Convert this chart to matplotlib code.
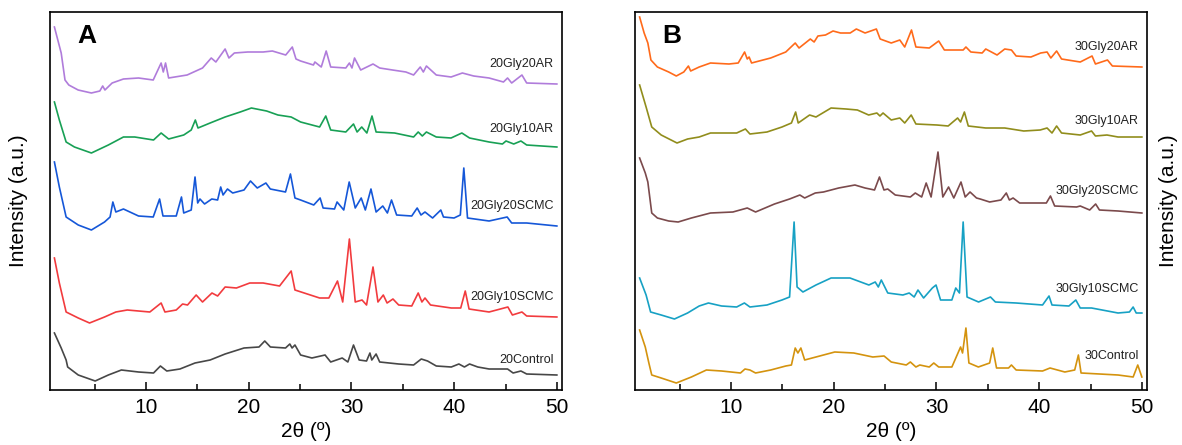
import matplotlib.pyplot as plt

plt.rcParams['font.family'] = ['Liberation Sans', 'DejaVu Sans']

# Panel A: 20 wt% glycerol films (2theta in degrees, stacked intensity in a.u.)
a_gly20ar_x = [1.08, 1.74, 2.11, 2.48, 3.39, 4.68, 5.5, 5.78, 6.0, 6.7, 7.8, 9.27, 10.7, 11.47, 11.68, 11.9, 12.2,
               14.0, 15.5, 16.35, 16.8, 17.7, 18.07, 18.6, 19.9, 21.4, 22.3, 23.6, 24.24, 24.6, 25.05, 26.3, 26.44,
               27.06, 27.54, 27.98, 29.45, 29.8, 30.05, 30.3, 30.9, 32.1, 32.75, 34.0, 35.3, 36.05, 36.7, 37.0, 37.3,
               38.26, 39.7, 40.8, 41.9, 43.4, 44.8, 45.2, 45.6, 46.6, 47.06, 50.0]
a_gly20ar_y = [363, 337, 310, 305, 300, 297, 299, 304, 300, 307, 311, 312, 310, 327, 318, 327, 312,
               315, 322, 332, 328, 341, 332, 337, 338, 338, 339, 335, 343, 331, 329, 325, 328,
               323, 339, 323, 322, 327, 322, 332, 320, 326, 322, 320, 318, 315, 323, 318, 324,
               315, 313, 317, 314, 312, 308, 312, 307, 315, 307, 306]

a_gly10ar_x = [1.08, 1.56, 2.22, 3.03, 4.68, 6.33, 7.8, 8.9, 10.73, 11.47, 12.2, 13.67, 14.4, 14.8, 15.06, 16.24,
               17.7, 19.17, 20.26, 21.74, 22.84, 24.13, 25.05, 26.9, 27.5, 27.98, 29.45, 30.2, 30.55, 31.0, 31.5,
               32.0, 32.4, 34.2, 36.05, 36.5, 36.9, 37.3, 38.26, 39.7, 40.75, 41.5, 43.4, 44.7, 45.05, 45.8, 46.5,
               47.06, 50.0]
a_gly10ar_y = [288, 270, 248, 243, 237, 245, 253, 253, 250, 257, 251, 255, 260, 270, 262, 267,
               273, 278, 282, 279, 275, 273, 268, 263, 274, 260, 258, 266, 258, 263, 257,
               274, 258, 257, 253, 258, 254, 258, 253, 252, 257, 252, 248, 246, 249, 246, 249,
               245, 243]

a_gly20scmc_x = [1.08, 1.56, 2.22, 3.4, 4.68, 5.96, 6.5, 6.77, 7.06, 7.8, 9.27, 10.7, 11.32, 11.65, 12.94, 13.45,
                 13.67, 14.4, 14.77, 15.03, 15.25, 15.7, 16.4, 16.97, 17.27, 17.5, 17.93, 18.44, 19.54, 20.17, 20.83,
                 21.67, 22.1, 23.58, 24.06, 24.5, 25.05, 26.33, 26.95, 27.24, 28.35, 28.6, 29.25, 29.78, 30.37,
                 30.95, 31.35, 31.9, 32.4, 33.05, 33.5, 33.9, 34.4, 35.87, 36.4, 36.77, 37.16, 37.9, 38.7, 38.96,
                 39.99, 40.6, 40.94, 41.3, 43.4, 45.16, 45.6, 47.06, 50.0]
a_gly20scmc_y = [228, 203, 173, 165, 160, 168, 173, 188, 178, 181, 174, 173, 191, 174, 174, 193,
                 177, 180, 213, 187, 191, 186, 191, 190, 203, 195, 201, 197, 200, 209, 202,
                 207, 201, 198, 216, 192, 190, 185, 192, 182, 181, 188, 180, 208, 182,
                 192, 180, 201, 178, 184, 177, 190, 175, 174, 182, 175, 178, 172, 180, 173,
                 172, 175, 222, 172, 169, 173, 167, 167, 164]

a_gly10scmc_x = [1.08, 1.56, 2.22, 3.4, 4.5, 5.96, 7.06, 8.17, 10.37, 11.47, 11.84, 12.94, 13.56, 14.04, 14.88,
                 15.5, 16.42, 16.97, 17.7, 18.8, 20.1, 21.4, 23.0, 24.13, 24.5, 25.4, 26.9, 27.8, 28.64, 29.15,
                 29.8, 30.37, 31.03, 31.47, 32.1, 32.58, 33.1, 33.47, 34.04, 34.6, 35.87, 36.5, 36.86, 37.16,
                 37.7, 39.72, 40.64, 41.08, 41.45, 43.4, 45.23, 45.67, 46.6, 47.06, 50.0]
a_gly10scmc_y = [132, 107, 78, 72, 67, 73, 78, 80, 78, 87, 78, 80, 86, 85, 95,
                 88, 97, 94, 103, 102, 107, 107, 104, 119, 100, 97, 92, 92, 109, 88,
                 151, 88, 90, 85, 123, 88, 95, 87, 91, 85, 84, 97, 88, 92,
                 85, 82, 82, 99, 81, 78, 83, 75, 78, 74, 73]

a_control_x = [1.08, 1.74, 2.22, 2.37, 3.4, 5.05, 6.33, 7.6, 9.27, 10.73, 11.4, 12.02, 13.3, 14.77, 16.24, 17.7,
               19.54, 21.0, 21.56, 22.11, 23.58, 24.0, 24.22, 24.5, 25.05, 26.15, 27.43, 27.98, 29.1, 29.65, 30.2,
               30.75, 31.47, 31.8, 31.98, 32.4, 32.75, 34.6, 36.05, 36.8, 37.41, 38.26, 39.72, 40.46, 41.0, 41.5,
               42.3, 43.4, 45.2, 45.74, 46.5, 47.06, 50.0]
a_control_y = [57, 42, 30, 23, 15, 9, 15, 20, 18, 17, 24, 19, 21, 27, 30, 36,
               42, 43, 49, 43, 42, 46, 42, 45, 35, 32, 35, 28, 32, 28, 45,
               30, 29, 37, 30, 36, 28, 26, 25, 31, 29, 24, 23, 26, 23, 26,
               23, 21, 21, 17, 19, 16, 15]

# Panel B: 30 wt% glycerol films
b_gly20ar_x = [1.1, 1.54, 1.9, 2.2, 2.83, 3.93, 4.67, 5.4, 5.85, 6.07, 6.9, 8.0, 9.8, 10.7, 11.32, 11.58, 11.76,
               12.0, 13.86, 15.33, 16.25, 16.62, 17.72, 18.09, 18.46, 19.2, 19.93, 20.66, 21.6, 22.2, 23.05,
               24.15, 24.52, 25.6, 26.43, 26.91, 27.57, 28.0, 29.3, 30.22, 30.77, 32.6, 32.87, 33.35, 34.45, 34.8,
               35.9, 36.65, 37.3, 37.76, 39.2, 40.15, 40.77, 41.14, 41.7, 42.18, 44.0, 45.15, 45.48, 46.65, 47.13,
               50.0]
b_gly20ar_y = [373, 357, 347, 330, 323, 318, 314, 318, 324, 319, 323, 327, 326, 327, 338, 331, 333,
               327, 332, 338, 347, 342, 351, 348, 354, 355, 359, 357, 357, 361, 357,
               361, 351, 347, 350, 343, 360, 343, 342, 349, 340, 340, 343, 338, 337, 341,
               335, 341, 340, 334, 333, 337, 338, 332, 339, 331, 328, 334, 326, 330, 324,
               323]

b_gly10ar_x = [1.1, 1.73, 2.28, 3.2, 4.74, 5.77, 6.9, 8.0, 10.55, 11.4, 11.84, 13.5, 14.96, 15.88, 16.29, 16.54,
               17.65, 18.27, 19.74, 21.2, 22.3, 23.4, 24.2, 24.5, 24.8, 25.6, 26.43, 26.91, 27.54, 28.0, 30.04,
               31.14, 32.06, 32.35, 32.72, 33.1, 34.8, 36.65, 38.5, 40.1, 40.77, 41.25, 41.7, 42.18, 44.0, 45.1,
               45.48, 46.6, 47.68, 50.0]
b_gly10ar_y = [305, 283, 263, 255, 247, 251, 253, 257, 257, 261, 256, 258, 263, 267, 278, 267,
               275, 273, 282, 281, 280, 275, 277, 274, 277, 270, 272, 267, 275, 266, 265,
               264, 272, 268, 278, 264, 262, 262, 259, 260, 262, 257, 264, 257, 255, 259,
               254, 255, 253, 253]

b_gly20scmc_x = [1.1, 1.65, 1.9, 2.28, 2.83, 3.93, 4.85, 6.14, 8.0, 10.18, 11.58, 12.39, 14.23, 15.7, 16.7, 17.17,
                 18.2, 19.0, 20.48, 22.06, 23.05, 23.97, 24.45, 24.89, 25.26, 25.99, 27.46, 27.94, 28.56, 29.0,
                 29.48, 30.15, 30.62, 31.18, 31.69, 32.39, 32.8, 33.27, 33.9, 34.26, 35.18, 36.28, 36.8, 37.1, 37.46,
                 38.1, 39.6, 40.7, 41.1, 41.51, 43.64, 44.0, 44.92, 45.5, 45.87, 47.68, 50.0]
b_gly20scmc_y = [232, 217, 208, 177, 172, 169, 168, 172, 177, 178, 182, 178, 186, 191, 195, 192,
                 197, 198, 202, 205, 202, 200, 213, 200, 201, 195, 193, 197, 193, 207,
                 193, 238, 193, 203, 192, 208, 193, 198, 192, 191, 188, 190, 197, 190, 192,
                 187, 187, 187, 194, 184, 183, 184, 180, 186, 180, 179, 177]

b_gly10scmc_x = [1.1, 1.73, 2.17, 3.2, 4.49, 5.77, 6.9, 7.8, 9.08, 10.55, 11.3, 11.84, 13.5, 14.96, 15.7, 16.14,
                 16.43, 17.0, 18.27, 19.74, 21.58, 23.42, 24.04, 24.34, 24.63, 25.26, 26.73, 27.35, 27.83, 28.2,
                 28.75, 29.6, 29.96, 30.4, 31.5, 31.88, 32.24, 32.6, 32.98, 34.1, 35.26, 35.74, 37.76, 40.33, 40.96,
                 41.25, 42.9, 43.57, 44.0, 45.1, 47.68, 48.79, 49.15, 49.45, 50.0]
b_gly10scmc_y = [112, 95, 78, 75, 71, 77, 84, 87, 84, 83, 87, 83, 85, 90, 93, 168,
                 103, 98, 105, 112, 112, 105, 108, 103, 110, 97, 95, 97, 93, 100,
                 92, 102, 105, 90, 90, 102, 97, 168, 93, 88, 93, 88, 87, 85, 94,
                 85, 84, 90, 82, 82, 77, 78, 83, 77, 77]

b_control_x = [1.1, 1.65, 2.0, 2.28, 3.2, 4.67, 6.14, 7.6, 9.08, 10.92, 11.36, 11.84, 12.39, 13.86, 15.33, 15.88,
               16.25, 16.51, 16.8, 17.17, 18.27, 20.1, 21.95, 23.8, 24.9, 25.6, 27.06, 27.46, 28.0, 28.38, 29.3,
               29.74, 30.22, 31.5, 31.8, 32.35, 32.54, 32.87, 33.16, 34.08, 35.18, 35.48, 35.85, 37.02, 37.3,
               37.76, 40.33, 41.06, 42.5, 43.46, 43.82, 44.08, 47.68, 49.15, 49.6, 50.0]
b_control_y = [60, 43, 27, 15, 12, 7, 13, 20, 19, 17, 21, 20, 17, 20, 24, 25,
               42, 37, 42, 30, 33, 38, 37, 33, 34, 28, 25, 28, 23, 25, 23,
               27, 23, 23, 30, 43, 37, 62, 27, 23, 27, 42, 22, 22, 25,
               20, 19, 22, 18, 20, 35, 17, 15, 13, 25, 13]

a_x = [a_gly20ar_x, a_gly10ar_x, a_gly20scmc_x, a_gly10scmc_x, a_control_x]
a_y = [a_gly20ar_y, a_gly10ar_y, a_gly20scmc_y, a_gly10scmc_y, a_control_y]
a_names = ['20Gly20AR', '20Gly10AR', '20Gly20SCMC', '20Gly10SCMC', '20Control']
a_label_y = [326, 261, 184, 93, 30]
a_colors = ['#B07CDB', '#18A055', '#1557D8', '#F23B3E', '#474747']

b_x = [b_gly20ar_x, b_gly10ar_x, b_gly20scmc_x, b_gly10scmc_x, b_control_x]
b_y = [b_gly20ar_y, b_gly10ar_y, b_gly20scmc_y, b_gly10scmc_y, b_control_y]
b_names = ['30Gly20AR', '30Gly10AR', '30Gly20SCMC', '30Gly10SCMC', '30Control']
b_label_y = [343, 269, 199, 101, 34]
b_colors = ['#FF6A1A', '#918D1C', '#7B4A4C', '#17A1C4', '#D4930E']

fig = plt.figure(figsize=(11.82, 4.45), dpi=100)
ax_a = fig.add_axes([50 / 1182, 55 / 445, 512 / 1182, 378 / 445])
ax_b = fig.add_axes([635 / 1182, 55 / 445, 512 / 1182, 378 / 445])


def draw_panel(ax, xs, ys, names, label_y, colors, letter, ylabel_side):
    for x, y, name, ly, c in zip(xs, ys, names, label_y, colors):
        ax.plot(x, y, color=c, lw=1.2)
        ax.text(49.7, ly, name, ha='right', va='center', fontsize=9, color='#222222')
    ax.set_xlim(0.65, 50.5)
    ax.set_ylim(0, 378)
    ax.set_xticks([10, 20, 30, 40, 50])
    ax.set_xticks([5, 15, 25, 35, 45], minor=True)
    ax.tick_params(axis='x', which='major', direction='in', length=6, width=1.1, labelsize=15, pad=6)
    ax.tick_params(axis='x', which='minor', direction='in', length=4, width=1.1)
    ax.set_yticks([])
    for s in ax.spines.values():
        s.set_linewidth(1.2)
    ax.set_xlabel('2θ (º)', fontsize=15)
    ax.xaxis.set_label_coords(0.5, -0.085)
    ax.set_ylabel('Intensity (a.u.)', fontsize=15)
    if ylabel_side == 'right':
        ax.yaxis.set_label_position('right')
        ax.yaxis.set_label_coords(1.024, 0.5)
    else:
        ax.yaxis.set_label_coords(-0.043, 0.5)
    ax.text(3.3, 347, letter, fontsize=19, fontweight='bold', va='baseline')


draw_panel(ax_a, a_x, a_y, a_names, a_label_y, a_colors, 'A', 'left')
draw_panel(ax_b, b_x, b_y, b_names, b_label_y, b_colors, 'B', 'right')

fig.savefig('out.png', dpi=100)
